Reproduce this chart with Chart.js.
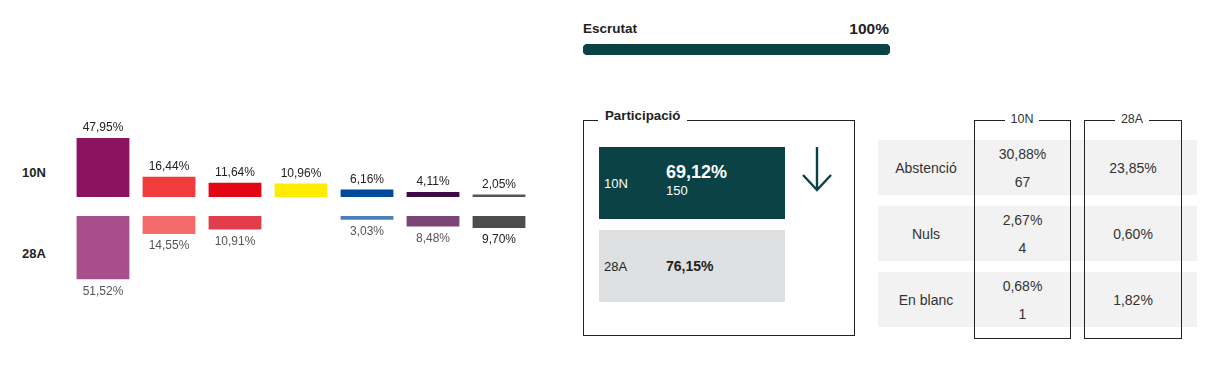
<!DOCTYPE html>
<html>
<head>
<meta charset="utf-8">
<script src="https://cdn.jsdelivr.net/npm/chart.js@4"></script>
<style>
  html, body { margin:0; padding:0; background:#fff; }
  body { width:1218px; height:369px; position:relative; overflow:hidden; font-family:"Liberation Sans", Arial, sans-serif; color:#222; }
  .abs { position:absolute; }
  .rowlab { font-weight:bold; font-size:13px; color:#222; }
  #top, #bot, #prog { position:absolute; }
  .fs { position:absolute; border:1px solid #222; box-sizing:border-box; }
  .legend { position:absolute; background:#fff; white-space:nowrap; }
  .card { position:absolute; }
  .trow { position:absolute; background:#f2f2f2; }
  .c { position:absolute; text-align:center; font-size:14px; color:#333; }
</style>
</head>
<body>
<script>
// ---- data ----
const parties = ["P1","P2","P3","P4","P5","P6","P7"];
const votes10N = [47.95, 16.44, 11.64, 10.96, 6.16, 4.11, 2.05];
const votes28A = [51.52, 14.55, 10.91, null, 3.03, 8.48, 9.70];
const labels10N = ["47,95%","16,44%","11,64%","10,96%","6,16%","4,11%","2,05%"];
const labels28A = ["51,52%","14,55%","10,91%","","3,03%","8,48%","9,70%"];
const escrutat = [100];
const escrutatLabel = "100%";
const participacio = ["69,12%", "76,15%"];
const participacio10NCount = "150";
const tableRows = ["Abstenció", "Nuls", "En blanc"];
const table10NPct = ["30,88%", "2,67%", "0,68%"];
const table10NCount = ["67", "4", "1"];
const table28APct = ["23,85%", "0,60%", "1,82%"];
</script>

<div class="abs rowlab" style="left:22px;top:165px;">10N</div>
<div class="abs rowlab" style="left:22px;top:246px;">28A</div>
<canvas id="top" style="left:70px;top:100px;" width="462" height="97"></canvas>
<canvas id="bot" style="left:70px;top:216px;" width="462" height="94"></canvas>

<div class="abs" style="left:583px;top:21px;font-weight:bold;font-size:13.5px;color:#222;">Escrutat</div>
<div class="abs" id="escLab" style="left:790px;width:99px;text-align:right;top:20px;font-weight:bold;font-size:15.5px;color:#222;"></div>
<canvas id="prog" style="left:583px;top:44px;" width="307" height="11"></canvas>

<!-- Participació -->
<div class="fs" style="left:583px;top:120px;width:272px;height:216px;"></div>
<div class="legend" style="left:598px;top:108px;padding:0 7px;font-weight:bold;font-size:13.3px;color:#222;">Participació</div>
<div class="card" style="left:599px;top:147px;width:186px;height:72px;background:#0b4246;color:#fff;">
  <div class="abs" style="left:5px;top:29px;font-size:13px;">10N</div>
  <div class="abs" id="p10" style="left:67px;top:15px;font-size:18px;font-weight:bold;"></div>
  <div class="abs" id="p10c" style="left:67px;top:36px;font-size:13px;"></div>
</div>
<div class="card" style="left:599px;top:230px;width:186px;height:72px;background:#dee0e1;color:#222;">
  <div class="abs" style="left:5px;top:29px;font-size:13px;">28A</div>
  <div class="abs" id="p28" style="left:67px;top:28px;font-size:14px;font-weight:bold;"></div>
</div>
<svg class="abs" style="left:801px;top:146px;" width="32" height="46" viewBox="0 0 32 46">
  <path d="M16 1 L16 44 M2 29 L16 44 L30 29" stroke="#0b4246" stroke-width="2.4" fill="none"/>
</svg>

<!-- table -->
<div id="table"></div>

<script>
// table
const tbl = document.getElementById('table');
let html = '';
const rowTops = [140, 206, 272];
rowTops.forEach((t, i) => {
  html += `<div class="trow" style="left:878px;top:${t}px;width:319px;height:55px;"></div>`;
});
html += `<div class="fs" style="left:974px;top:120px;width:97px;height:219px;"></div>`;
html += `<div class="fs" style="left:1084px;top:120px;width:98px;height:219px;"></div>`;
html += `<div class="legend" style="left:1005px;top:112px;width:34px;text-align:center;font-size:12.5px;color:#333;">10N</div>`;
html += `<div class="legend" style="left:1115px;top:112px;width:34px;text-align:center;font-size:12.5px;color:#333;">28A</div>`;
rowTops.forEach((t, i) => {
  html += `<div class="c" style="left:878px;width:96px;top:${t+20}px;">${tableRows[i]}</div>`;
  html += `<div class="c" style="left:974px;width:97px;top:${t+6}px;">${table10NPct[i]}</div>`;
  html += `<div class="c" style="left:974px;width:97px;top:${t+34}px;">${table10NCount[i]}</div>`;
  html += `<div class="c" style="left:1084px;width:98px;top:${t+20}px;">${table28APct[i]}</div>`;
});
tbl.innerHTML = html;
document.getElementById('escLab').textContent = escrutatLabel;
document.getElementById('p10').textContent = participacio[0];
document.getElementById('p10c').textContent = participacio10NCount;
document.getElementById('p28').textContent = participacio[1];

const FONT = '"Liberation Sans", Arial, sans-serif';
const PX_PER_PCT = 1.23;

function labelPlugin(texts, colors, below) {
  return {
    id: 'vlabels',
    afterDatasetsDraw(chart) {
      const ctx = chart.ctx;
      const meta = chart.getDatasetMeta(0);
      ctx.save();
      ctx.font = '12px ' + FONT;
      ctx.textAlign = 'center';
      meta.data.forEach((bar, i) => {
        if (!texts[i]) return;
        ctx.fillStyle = colors[i];
        if (below) {
          ctx.textBaseline = 'top';
          ctx.fillText(texts[i], bar.x, bar.y + 6);
        } else {
          ctx.textBaseline = 'bottom';
          ctx.fillText(texts[i], bar.x, bar.y - 4);
        }
      });
      ctx.restore();
    }
  };
}

const baseOpts = (max, reverse) => ({
  responsive: false,
  animation: false,
  events: [],
  layout: { padding: 0 },
  plugins: { legend: { display: false }, tooltip: { enabled: false } },
  scales: {
    x: { display: false },
    y: { display: false, min: 0, max: max, reverse: reverse }
  }
});

new Chart(document.getElementById('top'), {
  type: 'bar',
  data: {
    labels: parties,
    datasets: [{
      data: votes10N,
      backgroundColor: ['#8b1460','#f03c3c','#e30613','#ffed00','#004a99','#3d0a45','#555555'],
      barPercentage: 0.8, categoryPercentage: 1, borderWidth: 0
    }]
  },
  options: baseOpts(97 / PX_PER_PCT, false),
  plugins: [labelPlugin(labels10N, Array(7).fill('#222'), false)]
});

new Chart(document.getElementById('bot'), {
  type: 'bar',
  data: {
    labels: parties,
    datasets: [{
      data: votes28A,
      backgroundColor: ['#a84e8c','#f46b6b','#e23d4b','#ffed00','#4a80b9','#7b4577','#4d4d4d'],
      barPercentage: 0.8, categoryPercentage: 1, borderWidth: 0
    }]
  },
  options: baseOpts(94 / PX_PER_PCT, true),
  plugins: [labelPlugin(labels28A, ['#555','#555','#555','#555','#555','#555','#222'], true)]
});

new Chart(document.getElementById('prog'), {
  type: 'bar',
  data: {
    labels: ['Escrutat'],
    datasets: [{
      data: escrutat,
      backgroundColor: '#0b4246',
      barPercentage: 1, categoryPercentage: 1,
      borderRadius: 5, borderSkipped: false, borderWidth: 0
    }]
  },
  options: {
    indexAxis: 'y',
    responsive: false, animation: false, events: [],
    layout: { padding: 0 },
    plugins: { legend: { display: false }, tooltip: { enabled: false } },
    scales: { x: { display: false, min: 0, max: 100 }, y: { display: false } }
  }
});
</script>
</body>
</html>
